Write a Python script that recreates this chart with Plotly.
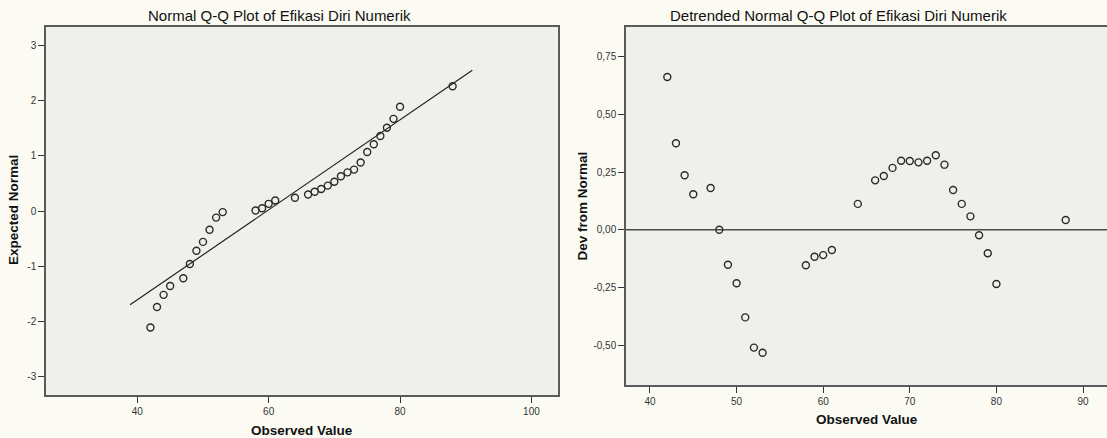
import plotly.graph_objects as go

# ---------------- data ----------------
observed = [42, 43, 44, 45, 47, 48, 49, 50, 51, 52, 53, 58, 59, 60, 61, 64,
            66, 67, 68, 69, 70, 71, 72, 73, 74, 75, 76, 77, 78, 79, 80, 88]
expected_normal = [-2.11, -1.74, -1.52, -1.36, -1.22, -0.96, -0.72, -0.56, -0.34,
                   -0.12, -0.02, 0.01, 0.05, 0.13, 0.19, 0.24, 0.30, 0.35, 0.40,
                   0.46, 0.53, 0.63, 0.70, 0.75, 0.88, 1.07, 1.21, 1.36, 1.51,
                   1.67, 1.89, 2.26]
dev_from_normal = [0.662, 0.375, 0.236, 0.154, 0.181, 0.000, -0.152, -0.232, -0.380,
                   -0.511, -0.533, -0.154, -0.117, -0.110, -0.088, 0.112, 0.214,
                   0.233, 0.268, 0.299, 0.298, 0.292, 0.299, 0.323, 0.282, 0.172,
                   0.112, 0.058, -0.024, -0.102, -0.235, 0.042]

ref_line_x = [38.9, 91.0]
ref_line_y = [-1.70, 2.55]

qq_x_ticks = [40, 60, 80, 100]
qq_x_labels = ["40", "60", "80", "100"]
qq_y_ticks = [3, 2, 1, 0, -1, -2, -3]
qq_y_labels = ["3", "2", "1", "0", "-1", "-2", "-3"]
dt_x_ticks = [40, 50, 60, 70, 80, 90]
dt_x_labels = ["40", "50", "60", "70", "80", "90"]
dt_y_ticks = [0.75, 0.50, 0.25, 0.00, -0.25, -0.50]
dt_y_labels = ["0,75", "0,50", "0,25", "0,00", "-0,25", "-0,50"]

title_left = "Normal Q-Q Plot of Efikasi Diri Numerik"
title_right = "Detrended Normal Q-Q Plot of Efikasi Diri Numerik"
xlabel = "Observed Value"
ylabel_left = "Expected Normal"
ylabel_right = "Dev from Normal"

# ---------------- figure ----------------
W, H = 1107, 438
FONT = "Liberation Sans, Arial, sans-serif"
marker = dict(symbol="circle-open", size=7, color="#2a2a2a", line=dict(width=1.4, color="#2a2a2a"))

fig = go.Figure()
fig.add_trace(go.Scatter(x=ref_line_x, y=ref_line_y, mode="lines",
                         line=dict(color="#222222", width=1.2),
                         xaxis="x", yaxis="y", showlegend=False, hoverinfo="skip"))
fig.add_trace(go.Scatter(x=observed, y=expected_normal, mode="markers", marker=marker,
                         xaxis="x", yaxis="y", showlegend=False))
fig.add_trace(go.Scatter(x=observed, y=dev_from_normal, mode="markers", marker=marker,
                         xaxis="x2", yaxis="y2", showlegend=False))

axis_common = dict(showgrid=False, zeroline=False, showline=True, linecolor="#5a5a5a",
                   linewidth=1.5, ticks="outside", ticklen=6, tickwidth=1.2,
                   tickcolor="#333333", tickfont=dict(family=FONT, size=10, color="#333333"),
                   tickmode="array", fixedrange=True)

def px_x(p):
    return p / W

def px_y(p):
    return 1 - p / H

fig.update_layout(
    width=W, height=H,
    margin=dict(l=0, r=0, t=0, b=0),
    paper_bgcolor="#fbfbf4",
    plot_bgcolor="#efefeb",
    font=dict(family=FONT, color="#111111"),
    xaxis=dict(axis_common, domain=[px_x(46), px_x(557.7)], range=[26.1, 104.0],
               tickvals=qq_x_ticks, ticktext=qq_x_labels, mirror=True, anchor="y"),
    yaxis=dict(axis_common, domain=[px_y(395.3), px_y(26.7)], range=[-3.34, 3.34],
               tickvals=qq_y_ticks, ticktext=qq_y_labels, mirror=True, anchor="x"),
    xaxis2=dict(axis_common, domain=[px_x(626), 1.0], range=[37.23, 92.77],
                tickvals=dt_x_ticks, ticktext=dt_x_labels, mirror=True, anchor="y2"),
    yaxis2=dict(axis_common, domain=[px_y(385), px_y(26.7)], range=[-0.673, 0.880],
                tickvals=dt_y_ticks, ticktext=dt_y_labels, mirror=False, anchor="x2"),
)

fig.add_shape(type="line", xref="x2 domain", yref="y2", x0=0, x1=1, y0=0, y1=0,
              line=dict(color="#4a4a4a", width=1.5), layer="below")

annots = [
    dict(text=title_left, x=px_x(279), y=px_y(15.7), font=dict(size=15, color="#111111")),
    dict(text=title_right, x=px_x(838), y=px_y(15.7), font=dict(size=15, color="#111111")),
    dict(text="<b>" + xlabel + "</b>", x=px_x(301.7), y=px_y(430), font=dict(size=13.5, color="#111111")),
    dict(text="<b>" + xlabel + "</b>", x=px_x(867), y=px_y(419), font=dict(size=13.5, color="#111111")),
    dict(text="<b>" + ylabel_left + "</b>", x=px_x(14), y=px_y(210), textangle=-90,
         font=dict(size=13.5, color="#111111")),
    dict(text="<b>" + ylabel_right + "</b>", x=px_x(581.6), y=px_y(206), textangle=-90,
         font=dict(size=13.5, color="#111111")),
]
for a in annots:
    fig.add_annotation(xref="paper", yref="paper", showarrow=False,
                       xanchor="center", yanchor="middle", **a)

fig.write_html("out.html")
